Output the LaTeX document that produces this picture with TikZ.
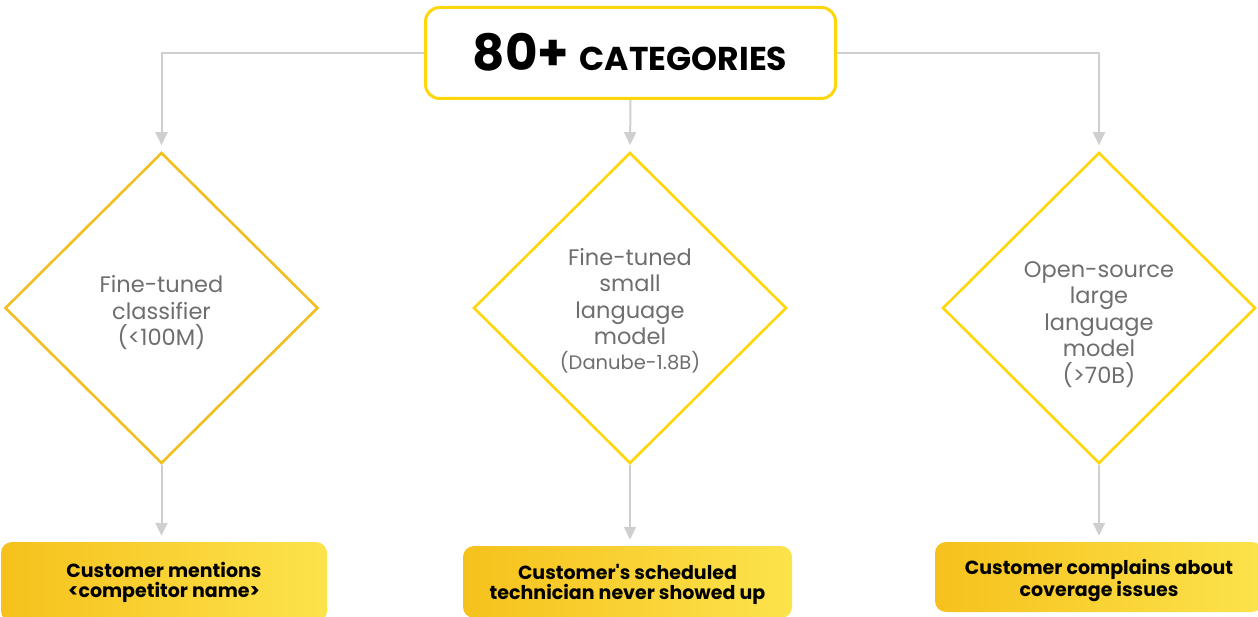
\documentclass[tikz,border=0pt]{standalone}
\usepackage{fontspec}
\setmainfont{Poppins}[Ligatures=TeXOff]
\usetikzlibrary{shapes.geometric,arrows.meta}
\definecolor{boxline}{HTML}{FFD60A}
\definecolor{amber}{HTML}{F2BF22}
\definecolor{conngray}{HTML}{CFCFCF}
\definecolor{txtgray}{HTML}{6E6E6E}
\definecolor{gradleft}{HTML}{F6C11C}
\definecolor{gradright}{HTML}{FCE34C}
\tikzset{
  header/.style={draw=boxline, line width=3pt, rounded corners=14pt, fill=white,
    minimum width=410pt, minimum height=91pt, inner sep=0pt},
  choice/.style={diamond, draw=boxline, line width=2.6pt, fill=white, inner sep=0pt,
    minimum width=313pt, minimum height=311pt, text=txtgray, align=center,
    font=\fontsize{22.5}{26.5}\selectfont},
  outcome/.style={rounded corners=11pt, shading=axis, left color=gradleft, right color=gradright,
    inner sep=0pt, align=center, font=\bfseries\fontsize{19}{20}\selectfont},
  conn/.style={draw=conngray, line width=2pt,
    -{Triangle[width=12pt,length=13pt]}, shorten >=6pt},
}
\begin{document}
\begin{tikzpicture}[x=1pt,y=-1pt]
\useasboundingbox (0,0) rectangle (1258,617);
\clip (0,0) rectangle (1258,617);

% header
\node[header] (top) at (630.5,53) {};
\node[anchor=base, inner sep=0pt] (toptxt) at (630,71)
  {\bfseries\fontsize{50}{50}\selectfont 80+ \fontsize{33}{33}\selectfont CATEGORIES};

% model choices
\node[choice, draw=amber] (d1) at (161.5,308) {\\[0pt]Fine-tuned\\classifier\\(<100M)};
\node[choice] (d2) at (630,308)
  {\\[-4pt]Fine-tuned\\small\\language\\model\\[-2pt]{\fontsize{19.5}{22}\selectfont(Danube-1.8B)}};
\node[choice] (d3) at (1099,308) {\\[22pt]Open-source\\large\\language\\model\\(>70B)};

% example outcomes
\node[outcome, minimum width=326pt, minimum height=80pt] (b1) at (164,582)
  {\\[-4pt]Customer mentions\\<competitor name>};
\node[outcome, minimum width=329pt, minimum height=72pt] (b2) at (627.5,582)
  {\\[0pt]Customer's scheduled\\technician never showed up};
\node[outcome, minimum width=328pt, minimum height=70pt] (b3) at (1099,577)
  {\\[2pt]Customer complains about\\coverage issues};

% connectors
\draw[conn] (top.west) -| (d1.north);
\draw[conn] (top.south) -- (d2.north);
\draw[conn] (top.east) -| (d3.north);
\draw[conn] (d1.south) -- (d1.south |- b1.north);
\draw[conn] (d2.south) -- (d2.south |- b2.north);
\draw[conn] (d3.south) -- (d3.south |- b3.north);
\end{tikzpicture}
\end{document}
